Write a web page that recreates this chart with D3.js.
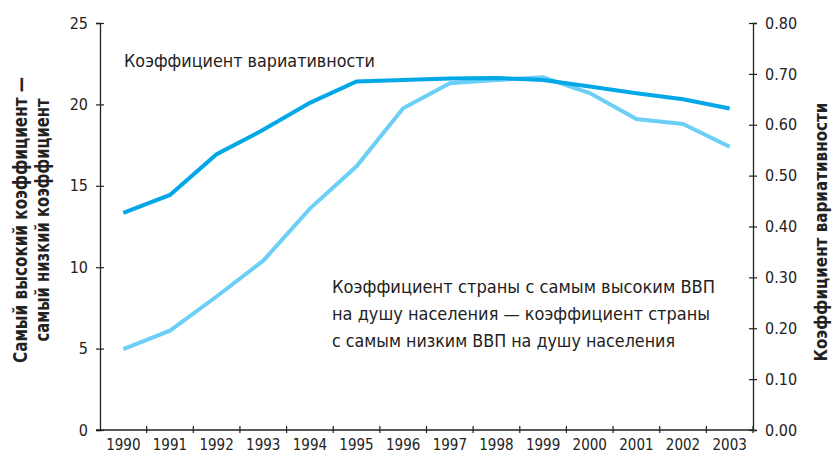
<!DOCTYPE html>
<html>
<head>
<meta charset="utf-8">
<script src="https://cdn.jsdelivr.net/npm/d3@7"></script>
<style>
  body { margin: 0; background: #fff; }
  svg text { font-family: "Liberation Sans Narrow", "DejaVu Sans Condensed", "Roboto", sans-serif; fill: #222; }
</style>
</head>
<body>
<div id="chart"></div>
<script>
// data
var years = ['1990','1991','1992','1993','1994','1995','1996','1997','1998','1999','2000','2001','2002','2003'];
var gapValues = [4.97, 6.1, 8.2, 10.4, 13.6, 16.2, 19.76, 21.3, 21.5, 21.66, 20.7, 19.1, 18.8, 17.4];
var cvValues = [0.427, 0.462, 0.542, 0.590, 0.643, 0.685, 0.688, 0.691, 0.692, 0.688, 0.675, 0.662, 0.650, 0.632];
var leftTicks = [0, 5, 10, 15, 20, 25];
var rightTicks = [0, 0.1, 0.2, 0.3, 0.4, 0.5, 0.6, 0.7, 0.8];
var cvLabel = 'Коэффициент вариативности';
var gapLabel = ['Коэффициент страны с самым высоким ВВП',
                'на душу населения — коэффициент страны',
                'с самым низким ВВП на душу населения'];
var leftTitle = ['Самый высокий коэффициент —', 'самый низкий коэффициент'];

var W = 834, H = 453;
var margin = {top: 23, right: 81, bottom: 23, left: 100};
var width = W - margin.left - margin.right,
    height = H - margin.top - margin.bottom;

var svg = d3.select('#chart').append('svg').attr('width', W).attr('height', H);
var g = svg.append('g').attr('transform', 'translate(' + margin.left + ',' + margin.top + ')');

var x = d3.scaleBand().domain(years).range([0, width]);
var yL = d3.scaleLinear().domain([0, 25]).range([height, 0]);
var yR = d3.scaleLinear().domain([0, 0.8]).range([height, 0]);

function styleAxis(sel, size) {
    sel.select('.domain').attr('stroke', '#222').attr('stroke-width', 1.3);
    sel.selectAll('.tick line').attr('stroke', '#222').attr('stroke-width', 1.2);
    sel.selectAll('.tick text').style('font-size', size + 'px').attr('fill', '#333');
}

// x axis: ticks at band edges, crossing the line
var xAxis = g.append('g').attr('transform', 'translate(0,' + height + ')');
xAxis.append('line').attr('x1', -4).attr('x2', width).attr('stroke', '#222').attr('stroke-width', 1.3);
xAxis.selectAll('line.tk').data(years).enter().append('line').attr('class', 'tk')
    .attr('x1', function(d) { return x(d) + x.bandwidth(); })
    .attr('x2', function(d) { return x(d) + x.bandwidth(); })
    .attr('y1', -4).attr('y2', 3).attr('stroke', '#222').attr('stroke-width', 1.2);
xAxis.selectAll('text').data(years).enter().append('text')
    .attr('x', function(d) { return x(d) + x.bandwidth() / 2; })
    .attr('y', 20).attr('text-anchor', 'middle')
    .style('font-size', '15px').attr('fill', '#333')
    .text(function(d) { return d; });

var left = g.append('g').call(d3.axisLeft(yL).tickValues(leftTicks).tickSize(4).tickPadding(8));
left.selectAll('.tick line').attr('x2', -4).attr('x1', 4);
styleAxis(left, 16);

var right = g.append('g').attr('transform', 'translate(' + width + ',0)')
    .call(d3.axisRight(yR).tickValues(rightTicks).tickSize(4).tickPadding(8).tickFormat(d3.format('.2f')));
right.selectAll('.tick line').attr('x1', -4).attr('x2', 4);
styleAxis(right, 16);

// lines
var cx = function(d, i) { return x(years[i]) + x.bandwidth() / 2; };
g.append('path').datum(gapValues)
    .attr('fill', 'none').attr('stroke', '#6ccff6').attr('stroke-width', 4)
    .attr('d', d3.line().x(cx).y(function(d) { return yL(d); }));
g.append('path').datum(cvValues)
    .attr('fill', 'none').attr('stroke', '#00a8e8').attr('stroke-width', 4)
    .attr('d', d3.line().x(cx).y(function(d) { return yR(d); }));

// labels
svg.append('text').attr('x', 124).attr('y', 67).style('font-size', '18.5px')
    .attr('textLength', 251).attr('lengthAdjust', 'spacingAndGlyphs').text(cvLabel);

var lens = [383, 378, 343];
svg.selectAll('text.gap').data(gapLabel).enter().append('text').attr('class', 'gap')
    .attr('x', 332).attr('y', function(d, i) { return 293 + i * 27; })
    .style('font-size', '18.5px')
    .attr('textLength', function(d, i) { return lens[i]; }).attr('lengthAdjust', 'spacingAndGlyphs')
    .text(function(d) { return d; });

var ltLens = [286, 243];
svg.selectAll('text.lt').data(leftTitle).enter().append('text').attr('class', 'lt')
    .attr('transform', function(d, i) { return 'translate(' + (27 + i * 22) + ',220) rotate(-90)'; })
    .attr('text-anchor', 'middle').style('font-size', '19px').style('font-weight', 'bold')
    .attr('fill', '#111')
    .attr('textLength', function(d, i) { return ltLens[i]; }).attr('lengthAdjust', 'spacingAndGlyphs')
    .text(function(d) { return d; });

svg.append('text').attr('transform', 'translate(827,232) rotate(-90)')
    .attr('text-anchor', 'middle').style('font-size', '18px').style('font-weight', 'bold')
    .attr('fill', '#111').attr('textLength', 259).attr('lengthAdjust', 'spacingAndGlyphs')
    .text(cvLabel);
</script>
</body>
</html>
